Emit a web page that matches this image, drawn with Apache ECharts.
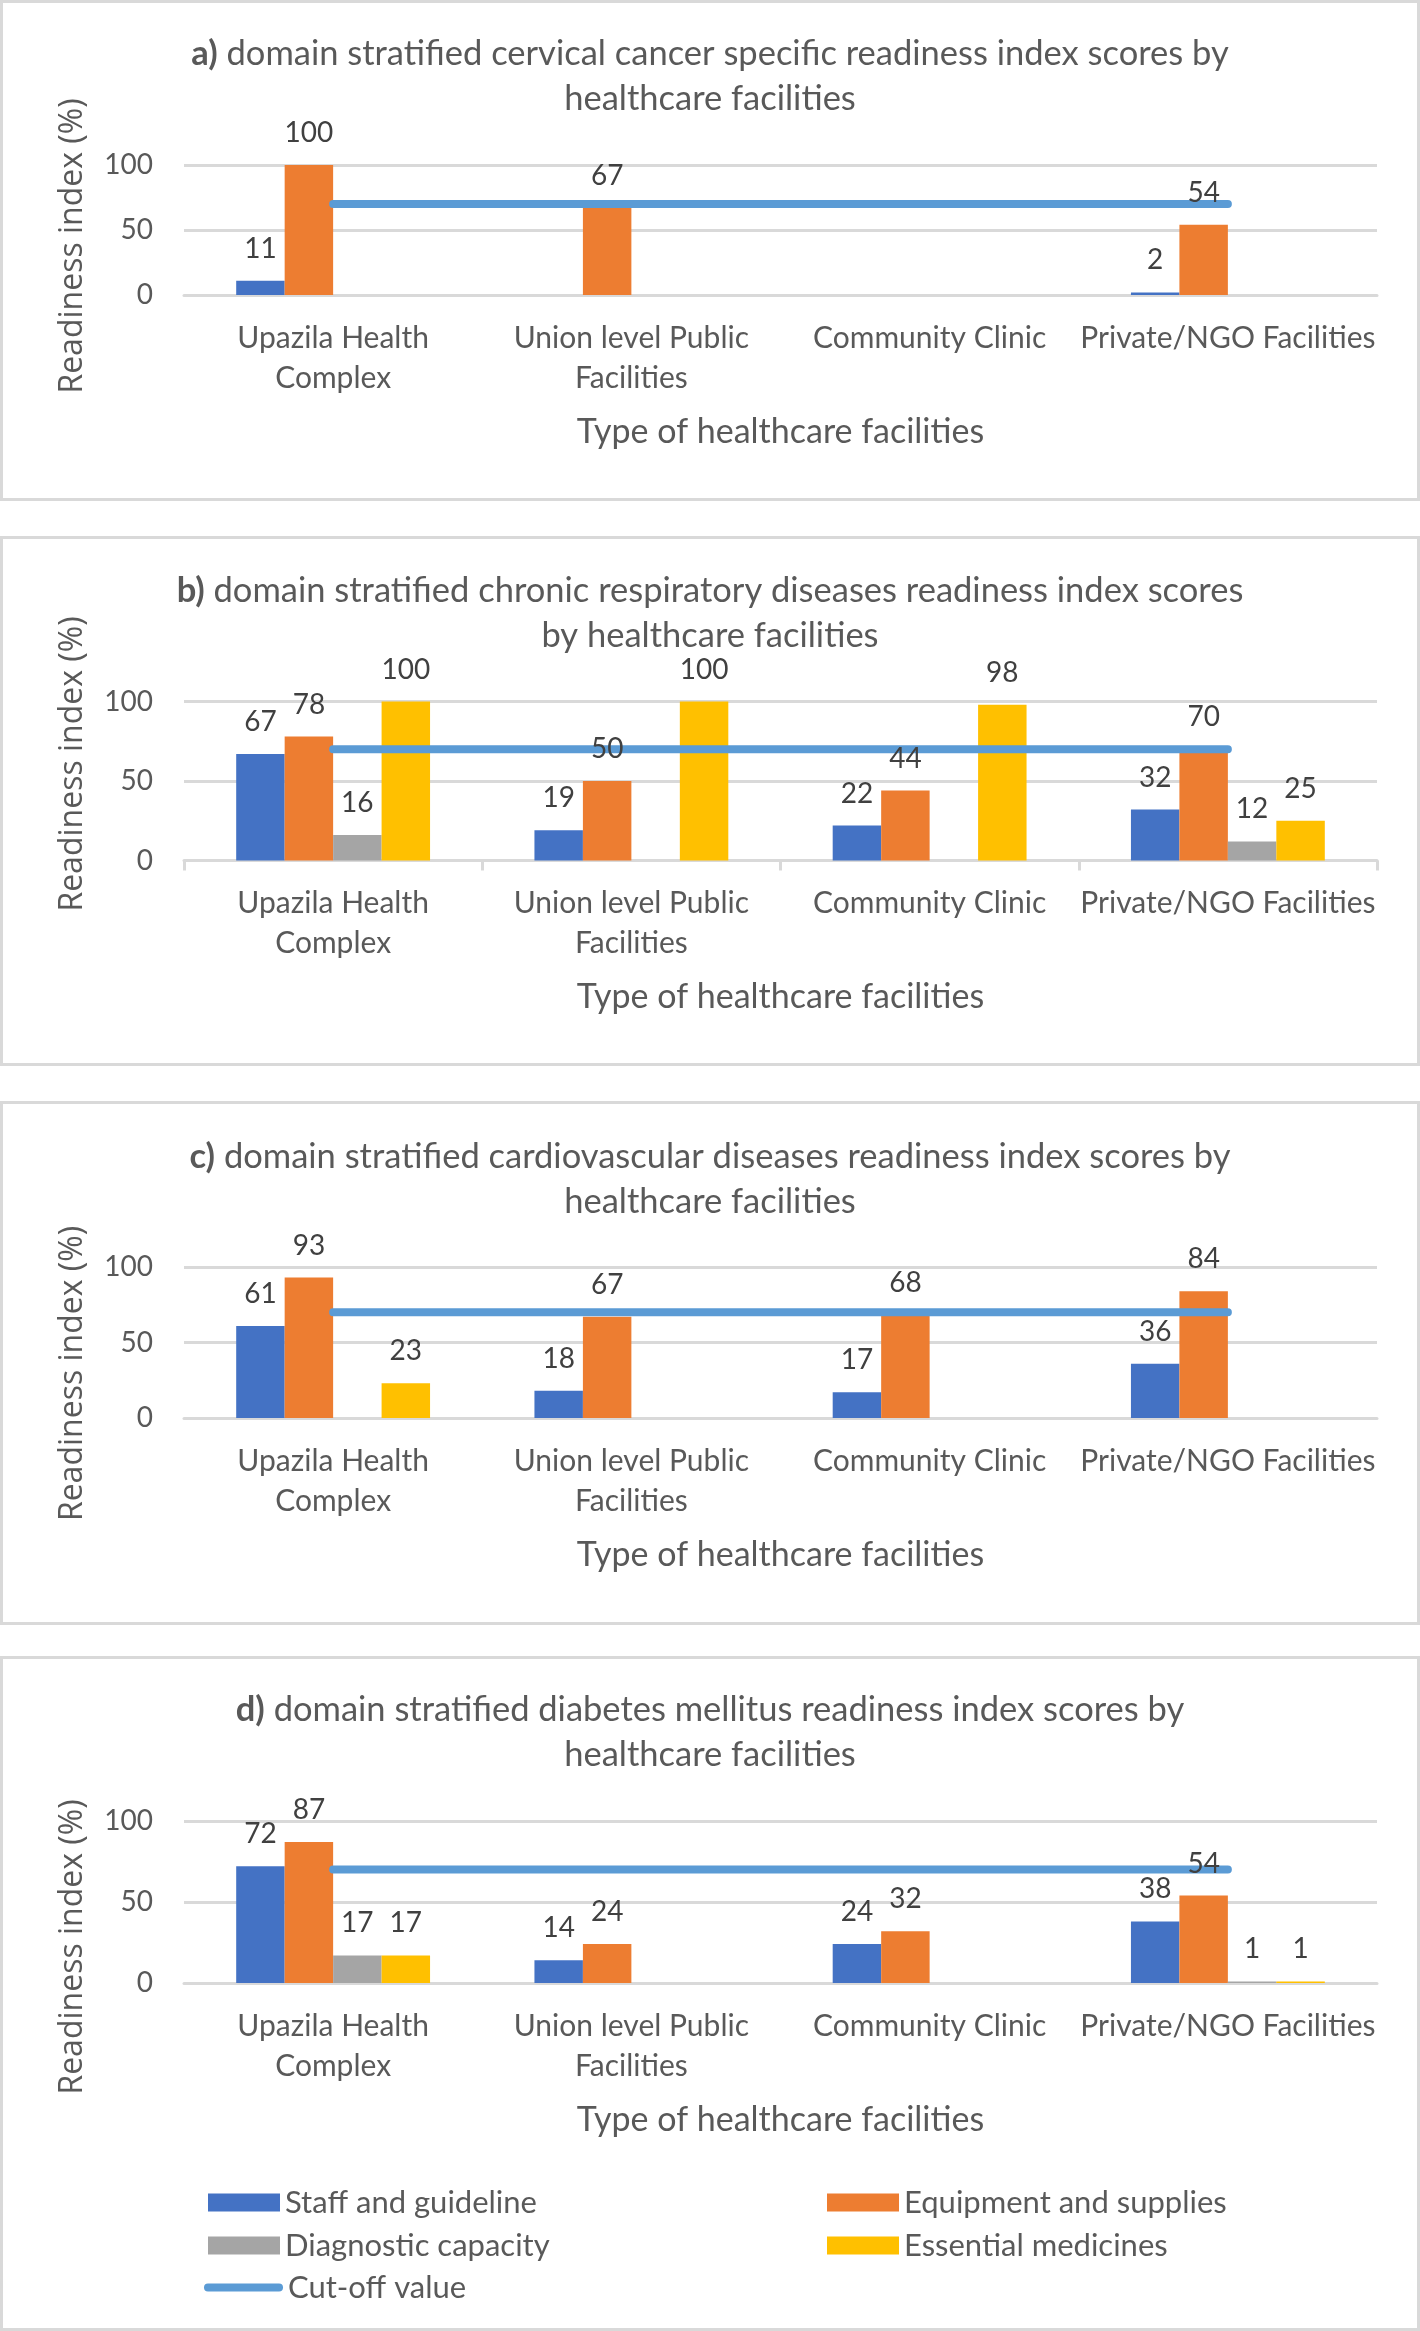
<!DOCTYPE html>
<html>
<head>
<meta charset="utf-8">
<script src="https://cdn.jsdelivr.net/npm/echarts@6/dist/echarts.min.js"></script>
<style>
html, body { margin: 0; padding: 0; background: #fff; }
#main { width: 1420px; height: 2331px; }
</style>
</head>
<body>
<div id="main"></div>
<script>
// categories / tick labels
var categories = ['Upazila Health Complex', 'Union level Public Facilities', 'Community Clinic', 'Private/NGO Facilities'];
var categoryLabels = ['Upazila Health\nComplex', 'Union level Public\nFacilities', 'Community Clinic', 'Private/NGO Facilities'];
var domainNames = ['Staff and guideline', 'Equipment and supplies', 'Diagnostic capacity', 'Essential medicines'];
var cutoffName = 'Cut-off value';

// a) cervical cancer
var cervicalStaff = [11, null, null, 2];
var cervicalEquipment = [100, 67, null, 54];
var cervicalDiagnostic = [null, null, null, null];
var cervicalMedicines = [null, null, null, null];
var cervicalCutoff = [70, 70, 70, 70];

// b) chronic respiratory diseases
var respiratoryStaff = [67, 19, 22, 32];
var respiratoryEquipment = [78, 50, 44, 70];
var respiratoryDiagnostic = [16, null, null, 12];
var respiratoryMedicines = [100, 100, 98, 25];
var respiratoryCutoff = [70, 70, 70, 70];

// c) cardiovascular diseases
var cardioStaff = [61, 18, 17, 36];
var cardioEquipment = [93, 67, 68, 84];
var cardioDiagnostic = [null, null, null, null];
var cardioMedicines = [23, null, null, null];
var cardioCutoff = [70, 70, 70, 70];

// d) diabetes mellitus
var diabetesStaff = [72, 14, 24, 38];
var diabetesEquipment = [87, 24, 32, 54];
var diabetesDiagnostic = [17, null, null, 1];
var diabetesMedicines = [17, null, null, 1];
var diabetesCutoff = [70, 70, 70, 70];

var panelTitles = [
    ['a)', 'domain stratified cervical cancer specific readiness index scores by', 'healthcare facilities'],
    ['b)', 'domain stratified chronic respiratory diseases readiness index scores', 'by healthcare facilities'],
    ['c)', 'domain stratified cardiovascular diseases readiness index scores by', 'healthcare facilities'],
    ['d)', 'domain stratified diabetes mellitus readiness index scores by', 'healthcare facilities']
];
var panelData = [
    [cervicalStaff, cervicalEquipment, cervicalDiagnostic, cervicalMedicines, cervicalCutoff],
    [respiratoryStaff, respiratoryEquipment, respiratoryDiagnostic, respiratoryMedicines, respiratoryCutoff],
    [cardioStaff, cardioEquipment, cardioDiagnostic, cardioMedicines, cardioCutoff],
    [diabetesStaff, diabetesEquipment, diabetesDiagnostic, diabetesMedicines, diabetesCutoff]
];

// layout (pixels)
var boxes = [[0, 501], [536, 1066], [1101, 1625], [1656, 2331]];   // frame top / bottom
var grids = [[165, 130], [701.5, 159], [1267, 151], [1821, 162]];  // plot top / height
var titleTops = [31.5, 568.5, 1134, 1687];
var yNameShift = [16, -17, 31, 45];
var colors = ['#4472C4', '#ED7D31', '#A5A5A5', '#FFC000'];
var FONT = 'Lato';
var gray = '#595959';

var chart = document.getElementById('main');
var myChart = echarts.init(chart);

var titles = [], gridList = [], xAxes = [], yAxes = [], series = [], graphics = [];
var labelSeries = [], hiddenAxes = [];
for (var i = 0; i < 4; i++) {
    graphics.push({
        type: 'rect', silent: true,
        shape: {x: 1.5, y: boxes[i][0] + 1.5, width: 1417, height: boxes[i][1] - boxes[i][0] - 3},
        style: {fill: 'none', stroke: '#D9D9D9', lineWidth: 3}
    });
    titles.push({
        text: '{b|' + panelTitles[i][0] + '}{t| ' + panelTitles[i][1] + '}\n{t|' + panelTitles[i][2] + '}',
        left: 'center',
        top: titleTops[i],
        padding: 0,
        textStyle: {
            fontFamily: FONT, fontSize: 34.5, color: gray, lineHeight: 45, fontWeight: 'normal',
            rich: {
                b: {fontFamily: FONT, fontSize: 34.5, color: gray, fontWeight: 'bold', lineHeight: 45},
                t: {fontFamily: FONT, fontSize: 34.5, color: gray, fontWeight: 'normal', lineHeight: 45}
            }
        }
    });
    gridList.push({left: 184, right: 43, top: grids[i][0], height: grids[i][1]});
    xAxes.push({
        type: 'category',
        gridIndex: i,
        data: categories,
        axisLine: {lineStyle: {color: '#D9D9D9', width: 3}},
        axisTick: {show: i == 1, length: 10, lineStyle: {color: '#D9D9D9', width: 3}},
        axisLabel: {
            interval: 0, margin: 23, lineHeight: 40,
            fontFamily: FONT, fontSize: 30, color: gray,
            formatter: function (v, idx) { return categoryLabels[idx]; }
        },
        name: 'Type of healthcare facilities',
        nameLocation: 'middle',
        nameGap: 120,
        nameTextStyle: {fontFamily: FONT, fontSize: 34, color: gray}
    });
    // invisible twin axis, only carries the value labels above the cut-off line
    hiddenAxes.push({type: 'category', gridIndex: i, data: categories, show: false});
    var sh = yNameShift[i];
    yAxes.push({
        type: 'value',
        gridIndex: i,
        min: 0, max: 100, interval: 50,
        axisLine: {show: false},
        axisTick: {show: false},
        splitLine: {lineStyle: {color: '#D9D9D9', width: 3}},
        axisLabel: {margin: 31, fontFamily: FONT, fontSize: 28, color: gray},
        name: 'Readiness index (%)',
        nameLocation: 'middle',
        nameGap: 95,
        nameTextStyle: {
            fontFamily: 'Open Sans', fontSize: 32, color: gray,
            padding: sh < 0 ? [0, 0, 0, -2 * sh] : [0, 2 * sh, 0, 0]
        }
    });
    for (var k = 0; k < 4; k++) {
        series.push({
            name: domainNames[k],
            type: 'bar',
            xAxisIndex: i, yAxisIndex: i,
            data: panelData[i][k],
            barGap: '0%',
            barCategoryGap: '35%',
            z: 2,
            itemStyle: {color: colors[k]}
        });
        labelSeries.push({
            name: domainNames[k] + ' label',
            type: 'bar',
            xAxisIndex: 4 + i, yAxisIndex: i,
            data: panelData[i][k],
            barGap: '0%',
            barCategoryGap: '35%',
            z: 4,
            silent: true,
            itemStyle: {color: 'rgba(0,0,0,0)'},
            label: {show: true, position: 'top', distance: 18, fontFamily: FONT, fontSize: 28, color: '#404040'}
        });
    }
    series.push({
        name: cutoffName,
        type: 'line',
        xAxisIndex: i, yAxisIndex: i,
        data: panelData[i][4],
        symbol: 'none',
        z: 3,
        lineStyle: {width: 8, color: '#5B9BD5', cap: 'round'},
        itemStyle: {color: '#5B9BD5'}
    });
}

var legendText = {fontFamily: FONT, fontSize: 31, color: gray};
var option = {
    animation: false,
    backgroundColor: '#fff',
    title: titles,
    grid: gridList,
    xAxis: xAxes.concat(hiddenAxes),
    yAxis: yAxes,
    graphic: graphics,
    legend: [{
        data: [domainNames[0], domainNames[2]],
        orient: 'vertical', left: 208, top: 2187, padding: 0,
        itemWidth: 72, itemHeight: 18, itemGap: 12, icon: 'rect',
        textStyle: legendText
    }, {
        data: [domainNames[1], domainNames[3]],
        orient: 'vertical', left: 827, top: 2187, padding: 0,
        itemWidth: 72, itemHeight: 18, itemGap: 12, icon: 'rect',
        textStyle: legendText
    }, {
        data: [{name: cutoffName, icon: 'path://M4,0H75A4,4,0,0,1,75,8H4A4,4,0,0,1,4,0Z'}],
        left: 204, top: 2272, padding: 0,
        itemWidth: 79, itemHeight: 8,
        textStyle: legendText
    }],
    series: series.concat(labelSeries)
};
myChart.setOption(option);
</script>
</body>
</html>
